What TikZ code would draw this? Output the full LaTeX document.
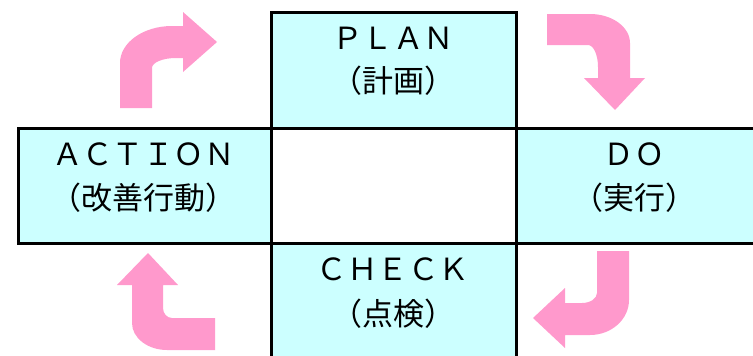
\documentclass[tikz,border=0pt]{standalone}
\usepackage{fontspec}
\newfontfamily\jp{Noto Sans CJK JP}
\definecolor{cellc}{HTML}{CCFFFF}
\definecolor{arrowc}{HTML}{FF99CC}
\begin{document}
\begin{tikzpicture}[x=1pt,y=-1pt,
  cell/.style={draw=black,line width=2.6pt,fill=cellc,inner sep=0pt,anchor=north west},
  lbl/.style={inner sep=0pt,font=\jp\fontsize{30.5}{34}\selectfont},
  klbl/.style={inner sep=0pt,font=\jp\fontsize{31}{34}\selectfont},
  bent/.style={fill=arrowc,draw=none}]
\useasboundingbox (0,0) rectangle (753,356);
\clip (0,0) rectangle (753,356);
% cells
\node[cell,minimum width=245pt,minimum height=116pt] (plan) at (270,11) {};
\node[cell,minimum width=253pt,minimum height=115pt] (action) at (17,127) {};
\node[cell,minimum width=260pt,minimum height=115pt] (do) at (515,127) {};
\node[cell,minimum width=245pt,minimum height=130pt] (check) at (270,242) {};
\node[cell,fill=white,minimum width=245pt,minimum height=115pt] (center) at (270,127) {};
% labels
\node[lbl] (planA) at (393,38) {ＰＬＡＮ};
\node[klbl] (planB) at (393,81) {（計画）};
\node[lbl] (actA) at (143.5,154) {ＡＣＴＩＯＮ};
\node[klbl] (actB) at (143.5,198) {（改善行動）};
\node[lbl] (doA) at (634,154) {ＤＯ};
\node[klbl] (doB) at (634,198) {（実行）};
\node[lbl] (chkA) at (393,269) {ＣＨＥＣＫ};
\node[klbl] (chkB) at (393,314) {（点検）};
% bent arrows
% top-left: up then right
\fill[bent] (120,108) -- (120,63) arc[start angle=180,end angle=270,x radius=52,y radius=37]
  -- (183,26) -- (183,12) -- (217,42) -- (183,72) -- (183,58) -- (176,58)
  arc[start angle=270,end angle=180,x radius=24,y radius=10] -- (152,108) -- cycle;
% top-right: right then down
\fill[bent] (547,14) -- (590,14) arc[start angle=-90,end angle=0,x radius=40,y radius=29]
  -- (630,78) -- (645,78) -- (615,110) -- (584,78) -- (598,78) -- (598,67)
  arc[start angle=0,end angle=-90,x radius=10,y radius=22] -- (547,45) -- cycle;
% bottom-right: down then left
\fill[bent] (597,251) -- (629,251) -- (629,300) arc[start angle=0,end angle=90,x radius=39,y radius=35]
  -- (565,335) -- (565,348) -- (533,318) -- (565,288) -- (565,303) -- (582,303)
  arc[start angle=90,end angle=0,x radius=15,y radius=10] -- cycle;
% bottom-left: left then up
\fill[bent] (215,350) -- (167,350) arc[start angle=90,end angle=180,x radius=35,y radius=27]
  -- (132,285) -- (117,285) -- (148,253) -- (178,285) -- (163,285) -- (163,308)
  arc[start angle=180,end angle=90,x radius=9,y radius=10] -- (215,318) -- cycle;
\end{tikzpicture}
\end{document}
